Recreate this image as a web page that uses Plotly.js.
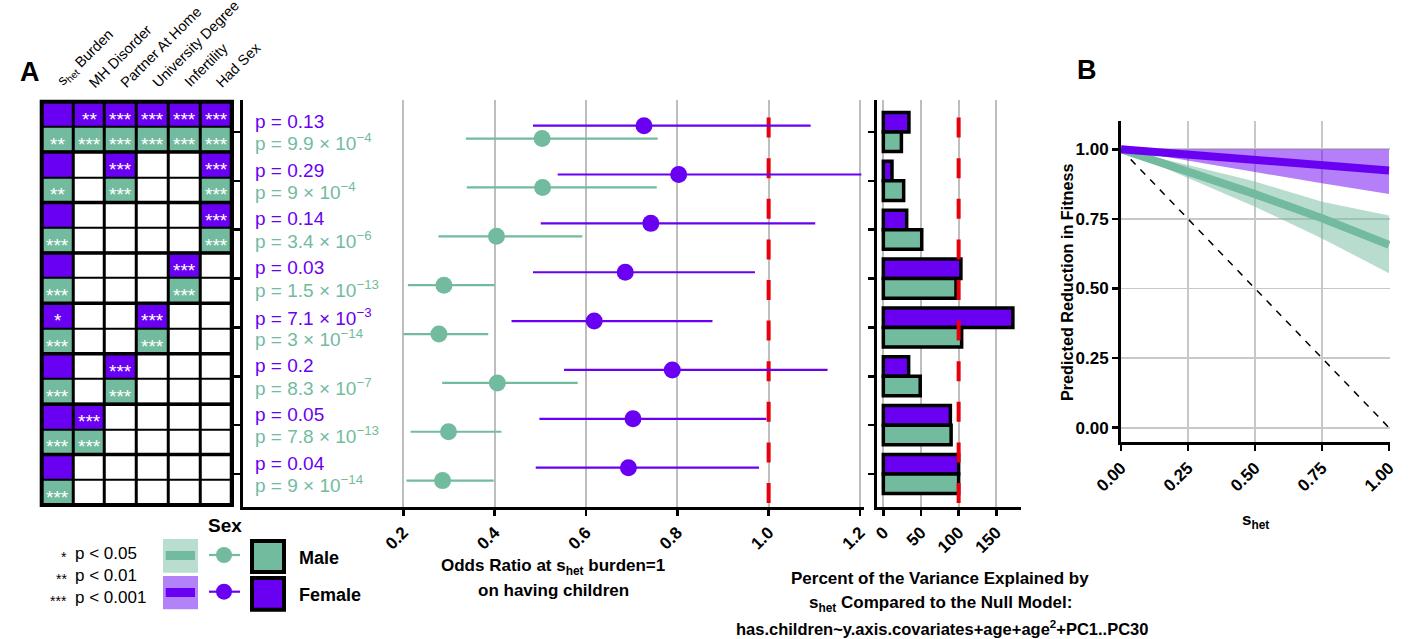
<!DOCTYPE html>
<html>
<head>
<meta charset="utf-8">
<script src="https://cdn.plot.ly/plotly-3.0.1.min.js"></script>
<style>html,body{margin:0;padding:0;background:#fff;}#chart{width:1408px;height:639px;}</style>
</head>
<body>
<div id="chart"></div>
<script>
// ---------------- DATA ----------------
const covariates = ["s<sub>het</sub> Burden", "MH Disorder", "Partner At Home", "University Degree", "Infertility", "Had Sex"];
// which covariates are in each of the 8 models (1 = included)
const modelCovars = [
  [1,1,1,1,1,1],
  [1,0,1,0,0,1],
  [1,0,0,0,0,1],
  [1,0,0,0,1,0],
  [1,0,0,1,0,0],
  [1,0,1,0,0,0],
  [1,1,0,0,0,0],
  [1,0,0,0,0,0]
];
const femaleStars = [
  ["", "**", "***", "***", "***", "***"],
  ["", "", "***", "", "", "***"],
  ["", "", "", "", "", "***"],
  ["", "", "", "", "***", ""],
  ["*", "", "", "***", "", ""],
  ["", "", "***", "", "", ""],
  ["", "***", "", "", "", ""],
  ["", "", "", "", "", ""]
];
const maleStars = [
  ["**", "***", "***", "***", "***", "***"],
  ["**", "", "***", "", "", "***"],
  ["***", "", "", "", "", "***"],
  ["***", "", "", "", "***", ""],
  ["***", "", "", "***", "", ""],
  ["***", "", "***", "", "", ""],
  ["***", "***", "", "", "", ""],
  ["***", "", "", "", "", ""]
];

const rows = [1, 2, 3, 4, 5, 6, 7, 8];
const femaleOR = [0.727, 0.803, 0.742, 0.686, 0.618, 0.789, 0.703, 0.693];
const femaleLo = [0.484, 0.538, 0.501, 0.484, 0.437, 0.552, 0.498, 0.490];
const femaleHi = [1.092, 1.203, 1.102, 0.970, 0.877, 1.129, 0.995, 0.979];
const maleOR   = [0.504, 0.505, 0.404, 0.289, 0.278, 0.406, 0.299, 0.286];
const maleLo   = [0.337, 0.339, 0.277, 0.210, 0.200, 0.285, 0.216, 0.207];
const maleHi   = [0.757, 0.755, 0.592, 0.400, 0.386, 0.582, 0.415, 0.398];
const femaleP = ["0.13", "0.29", "0.14", "0.03", "7.1 × 10<sup>−3</sup>", "0.2", "0.05", "0.04"];
const maleP = ["9.9 × 10<sup>−4</sup>", "9 × 10<sup>−4</sup>", "3.4 × 10<sup>−6</sup>", "1.5 × 10<sup>−13</sup>",
               "3 × 10<sup>−14</sup>", "8.3 × 10<sup>−7</sup>", "7.8 × 10<sup>−13</sup>", "9 × 10<sup>−14</sup>"];
const orTicks = [0.2, 0.4, 0.6, 0.8, 1.0, 1.2];
const orTickText = ["0.2", "0.4", "0.6", "0.8", "1.0", "1.2"];
const nullOR = 1.0;

const femalePct = [34, 11.5, 31, 103, 172, 33.6, 89, 100];
const malePct   = [24, 27, 51, 96.5, 104, 49, 90, 100];
const pctTicks = [0, 50, 100, 150];
const nullPct = 100;

const shet = [0, 0.25, 0.5, 0.75, 1.0];
const femaleFit   = [1.0, 0.981, 0.962, 0.943, 0.924];
const femaleFitLo = [1.0, 0.958, 0.918, 0.878, 0.839];
const femaleFitHi = [1.0, 1.0, 1.0, 1.0, 1.0];
const maleFit     = [1.0, 0.921, 0.839, 0.752, 0.657];
const maleFitLo   = [1.0, 0.898, 0.794, 0.680, 0.555];
const maleFitHi   = [1.0, 0.944, 0.884, 0.812, 0.762];
const neutralX = [0, 1];
const neutralY = [1, 0];
const fitTicks = [0, 0.25, 0.5, 0.75, 1.0];
const fitTickText = ["0.00", "0.25", "0.50", "0.75", "1.00"];

// ---------------- STYLE ----------------
const GREEN = '#72BB9E', PURPLE = '#6A00F2', LGREEN = '#B9DDCF', LPURPLE = '#B482F8', RED = '#E8000B';
const FONT = 'Liberation Sans, Arial, Helvetica, sans-serif';
const W = 1408, H = 639;
const px = x => x / W, py = y => 1 - y / H;
const FOFF = -0.13, MOFF = 0.135;

// ---------------- HEATMAP ----------------
const hz = [], hy = [], starAnn = [];
modelCovars.forEach((m, g) => {
  hz.push(m.map(v => v ? 2 : 0)); hy.push(2 * g);
  hz.push(m.map(v => v ? 1 : 0)); hy.push(2 * g + 1);
  femaleStars[g].forEach((s, i) => { if (s) starAnn.push([i, 2 * g, s]); });
  maleStars[g].forEach((s, i) => { if (s) starAnn.push([i, 2 * g + 1, s]); });
});
const traces = [];
traces.push({
  type: 'heatmap', x: covariates.map((c, i) => i), y: hy, z: hz,
  zmin: 0, zmax: 2, showscale: false, xgap: 3, ygap: 2, hoverinfo: 'skip',
  colorscale: [[0, 'white'], [0.333, 'white'], [0.333, GREEN], [0.667, GREEN], [0.667, PURPLE], [1, PURPLE]],
  xaxis: 'x', yaxis: 'y'
});

// ---------------- FOREST ----------------
traces.push({type: 'scatter', mode: 'lines', x: [nullOR, nullOR], y: [-0.1257, 9.5], xaxis: 'x2', yaxis: 'y2',
  line: {color: RED, width: 4, dash: '20px,20.6px'}, hoverinfo: 'skip'});
traces.push({type: 'scatter', mode: 'markers', x: maleOR, y: rows.map(r => r + MOFF), xaxis: 'x2', yaxis: 'y2',
  marker: {color: GREEN, size: 17},
  error_x: {type: 'data', symmetric: false, array: maleHi.map((h, i) => h - maleOR[i]),
            arrayminus: maleLo.map((l, i) => maleOR[i] - l), color: GREEN, thickness: 2.2, width: 0}});
traces.push({type: 'scatter', mode: 'markers', x: femaleOR, y: rows.map(r => r + FOFF), xaxis: 'x2', yaxis: 'y2',
  marker: {color: PURPLE, size: 17},
  error_x: {type: 'data', symmetric: false, array: femaleHi.map((h, i) => h - femaleOR[i]),
            arrayminus: femaleLo.map((l, i) => femaleOR[i] - l), color: PURPLE, thickness: 2.2, width: 0}});

// ---------------- BARS ----------------
traces.push({type: 'scatter', mode: 'lines', x: [nullPct, nullPct], y: [-0.1257, 9.5], xaxis: 'x3', yaxis: 'y3',
  line: {color: RED, width: 4, dash: '20px,20.6px'}, hoverinfo: 'skip'});
traces.push({type: 'bar', orientation: 'h', x: femalePct, y: rows, width: 0.4, offset: -0.4, xaxis: 'x3', yaxis: 'y3',
  marker: {color: PURPLE, line: {color: 'black', width: 3.5}}});
traces.push({type: 'bar', orientation: 'h', x: malePct, y: rows, width: 0.4, offset: 0, xaxis: 'x3', yaxis: 'y3',
  marker: {color: GREEN, line: {color: 'black', width: 3.5}}});

// ---------------- PANEL B ----------------
traces.push({type: 'scatter', mode: 'lines', x: shet, y: maleFitLo, xaxis: 'x4', yaxis: 'y4', line: {width: 0}, hoverinfo: 'skip'});
traces.push({type: 'scatter', mode: 'lines', x: shet, y: maleFitHi, xaxis: 'x4', yaxis: 'y4', line: {width: 0},
  fill: 'tonexty', fillcolor: 'rgba(114,187,158,0.5)', hoverinfo: 'skip'});
traces.push({type: 'scatter', mode: 'lines', x: shet, y: femaleFitLo, xaxis: 'x4', yaxis: 'y4', line: {width: 0}, hoverinfo: 'skip'});
traces.push({type: 'scatter', mode: 'lines', x: shet, y: femaleFitHi, xaxis: 'x4', yaxis: 'y4', line: {width: 0},
  fill: 'tonexty', fillcolor: 'rgba(106,0,242,0.5)', hoverinfo: 'skip'});
traces.push({type: 'scatter', mode: 'lines', x: neutralX, y: neutralY, xaxis: 'x4', yaxis: 'y4',
  line: {color: 'black', width: 1.5, dash: '7px,7px'}});
traces.push({type: 'scatter', mode: 'lines', x: shet, y: maleFit, xaxis: 'x4', yaxis: 'y4',
  line: {color: GREEN, width: 8}});
traces.push({type: 'scatter', mode: 'lines', x: shet, y: femaleFit, xaxis: 'x4', yaxis: 'y4',
  line: {color: PURPLE, width: 8}});

// ---------------- LAYOUT ----------------
const tickFont = {family: FONT, size: 17, color: 'black', weight: 'bold'};
const axLine = {showline: true, linecolor: 'black', linewidth: 3, ticks: 'outside', ticklen: 6, tickwidth: 2.5,
  tickcolor: 'black', zeroline: false, fixedrange: true};

const shapes = [
  {type: 'rect', xref: 'x domain', yref: 'y domain', x0: 0, x1: 1, y0: 0, y1: 1, fillcolor: 'black', line: {width: 0}, layer: 'below'},
  {type: 'rect', xref: 'x domain', yref: 'y domain', x0: 0, x1: 1, y0: 0, y1: 1, line: {color: 'black', width: 4}}
];
for (let g = 1; g < modelCovars.length; g++) {
  shapes.push({type: 'line', xref: 'x', yref: 'y', x0: -0.5, x1: covariates.length - 0.5, y0: 2 * g - 0.5, y1: 2 * g - 0.5,
    line: {color: 'black', width: 3.5}});
}
// legend decorations (paper px)
const R = (x0, x1, y0, y1, fill, line) => ({type: 'rect', xref: 'paper', yref: 'paper', x0: px(x0), x1: px(x1),
  y0: py(y1), y1: py(y0), fillcolor: fill, line: line || {width: 0}});
shapes.push(R(163, 198, 539, 572.7, LGREEN));
shapes.push(R(165.7, 195, 551, 560, GREEN));
shapes.push(R(163, 198, 576, 609.3, LPURPLE));
shapes.push(R(165.7, 195, 588, 597, PURPLE));
shapes.push({type: 'line', xref: 'paper', yref: 'paper', x0: px(209), x1: px(240), y0: py(555), y1: py(555), line: {color: GREEN, width: 2.2}});
shapes.push({type: 'circle', xref: 'paper', yref: 'paper', x0: px(216), x1: px(232), y0: py(563), y1: py(547), fillcolor: GREEN, line: {width: 0}});
shapes.push({type: 'line', xref: 'paper', yref: 'paper', x0: px(209), x1: px(240), y0: py(591.7), y1: py(591.7), line: {color: PURPLE, width: 2.2}});
shapes.push({type: 'circle', xref: 'paper', yref: 'paper', x0: px(216), x1: px(232), y0: py(599.7), y1: py(583.7), fillcolor: PURPLE, line: {width: 0}});
shapes.push(R(252, 284, 541, 572, GREEN, {color: 'black', width: 4}));
shapes.push(R(252, 284, 578, 609.7, PURPLE, {color: 'black', width: 4}));

const ann = [];
const A = (x, y, text, opts) => Object.assign({xref: 'paper', yref: 'paper', x: px(x), y: py(y), text: text,
  showarrow: false, xanchor: 'center', yanchor: 'middle', font: {family: FONT, size: 17, color: 'black'}}, opts || {});
// panel letters
ann.push(A(18, 72, '<b>A</b>', {xanchor: 'left', font: {family: FONT, size: 27, color: 'black'}}));
ann.push(A(1075, 70, '<b>B</b>', {xanchor: 'left', font: {family: FONT, size: 27, color: 'black'}}));
// column labels
covariates.forEach((c, i) => {
  ann.push({xref: 'x', yref: 'paper', x: i - 0.2, y: py(93), text: c, textangle: -45, showarrow: false,
    xanchor: 'left', yanchor: 'bottom', font: {family: FONT, size: 14.5, color: 'black'}});
});
// significance stars in cells
starAnn.forEach(([cx, cy, s]) => {
  ann.push({xref: 'x', yref: 'y', x: cx, y: cy, text: s, showarrow: false, xanchor: 'center', yanchor: 'middle',
    yshift: -5, font: {family: FONT, size: 19, color: 'white'}});
});
// p-values
rows.forEach((r, i) => {
  ann.push({xref: 'x2 domain', yref: 'y2', x: 0.016, y: r - 0.22, text: 'p = ' + femaleP[i], showarrow: false,
    xanchor: 'left', yanchor: 'middle', font: {family: FONT, size: 19, color: PURPLE}});
  ann.push({xref: 'x2 domain', yref: 'y2', x: 0.016, y: r + 0.21, text: 'p = ' + maleP[i], showarrow: false,
    xanchor: 'left', yanchor: 'middle', font: {family: FONT, size: 19, color: GREEN}});
});
// axis titles
ann.push(A(553, 567, '<b>Odds Ratio at s<sub>het</sub> burden=1</b>'));
ann.push(A(553, 590, '<b>on having children</b>'));
ann.push(A(940, 578, '<b>Percent of the Variance Explained by</b>'));
ann.push(A(940, 604, '<b>s<sub>het</sub> Compared to the Null Model:</b>'));
ann.push(A(942, 628, '<b>has.children~y.axis.covariates+age+age<sup>2</sup>+PC1..PC30</b>', {font: {family: FONT, size: 16.5, color: 'black'}}));
ann.push(A(1255, 521, '<b>s<sub>het</sub></b>'));
ann.push(A(1067, 283, '<b>Predicted Reduction in Fitness</b>', {textangle: -90, font: {family: FONT, size: 16.2, color: 'black'}}));
// legend texts
const stars = ['*', '**', '***'], plab = ['p &lt; 0.05', 'p &lt; 0.01', 'p &lt; 0.001'], sy = [553, 575, 597];
stars.forEach((s, i) => {
  ann.push(A(69, sy[i] + 4, s, {xanchor: 'right', font: {family: FONT, size: 14, color: 'black'}}));
  ann.push(A(73, sy[i], plab[i], {xanchor: 'left'}));
});
ann.push(A(225, 525, '<b>Sex</b>', {font: {family: FONT, size: 19, color: 'black'}}));
ann.push(A(297, 557.7, '<b>Male</b>', {xanchor: 'left', font: {family: FONT, size: 18, color: 'black'}}));
ann.push(A(297, 595, '<b>Female</b>', {xanchor: 'left', font: {family: FONT, size: 18, color: 'black'}}));

const layout = {
  width: W, height: H, margin: {l: 0, r: 0, t: 0, b: 0}, paper_bgcolor: 'white', plot_bgcolor: 'white',
  showlegend: false, font: {family: FONT, color: 'black'},
  xaxis: {domain: [px(41.7), px(232)], range: [-0.5, covariates.length - 0.5], visible: false, fixedrange: true},
  yaxis: {domain: [py(505), py(101.7)], range: [2 * modelCovars.length - 0.5, -0.5], visible: false, fixedrange: true},
  xaxis2: Object.assign({}, axLine, {domain: [px(243), px(864)], range: [-0.151, 1.2088], anchor: 'y2',
    tickvals: orTicks, ticktext: orTickText, tickangle: -45, tickfont: tickFont,
    showgrid: true, gridcolor: '#BEBEBE', gridwidth: 2}),
  yaxis2: Object.assign({}, axLine, {domain: [py(507), py(100)], range: [8.675, 0.345], anchor: 'x2',
    tickvals: rows, showticklabels: false, showgrid: false}),
  xaxis3: Object.assign({}, axLine, {domain: [px(877), px(1021)], range: [-8.4, 182.8], anchor: 'y3',
    tickvals: pctTicks, tickangle: -45, tickfont: tickFont, showgrid: true, gridcolor: '#BEBEBE', gridwidth: 2}),
  yaxis3: Object.assign({}, axLine, {domain: [py(507), py(100)], range: [8.675, 0.345], anchor: 'x3',
    tickvals: rows, showticklabels: false, showgrid: false}),
  xaxis4: Object.assign({}, axLine, {domain: [px(1121), px(1390)], range: [0, 1.0037], anchor: 'y4',
    tickvals: fitTicks, ticktext: fitTickText, tickangle: -45, tickfont: tickFont,
    showgrid: true, gridcolor: '#C8C8C8', gridwidth: 1.6}),
  yaxis4: Object.assign({}, axLine, {domain: [py(442.3), py(120.7)], range: [-0.0524, 1.1027], anchor: 'x4',
    tickvals: fitTicks, ticktext: fitTickText, tickfont: tickFont,
    showgrid: true, gridcolor: '#C8C8C8', gridwidth: 1.6}),
  shapes: shapes, annotations: ann
};
Plotly.newPlot('chart', traces, layout, {staticPlot: true, displayModeBar: false});
</script>
</body>
</html>
